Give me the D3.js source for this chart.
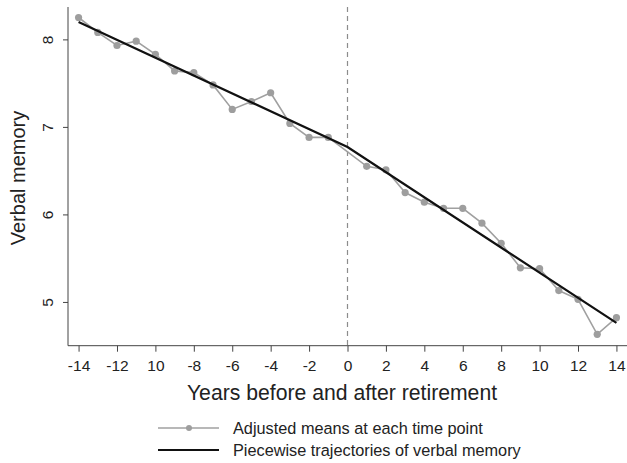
<!DOCTYPE html>
<html>
<head>
<meta charset="utf-8">
<script src="https://cdn.jsdelivr.net/npm/d3@7"></script>
<style>
  body { margin: 0; background: #fff; }
  svg { display: block; font-family: "Liberation Sans", Arial, sans-serif; }
  .axis path, .axis line { stroke: #444; }
  .axis text { fill: #222; font-size: 15.5px; font-family: "Liberation Sans", Arial, sans-serif; }
</style>
</head>
<body>
<div id="chart"></div>
<script>
// years relative to retirement (no observation at year 0)
var years = [-14,-13,-12,-11,-10,-9,-8,-7,-6,-5,-4,-3,-2,-1,1,2,3,4,5,6,7,8,9,10,11,12,13,14]
var adjMeans = [8.25,8.08,7.93,7.98,7.83,7.64,7.62,7.48,7.20,7.29,7.39,7.04,6.88,6.88,6.55,6.51,6.25,6.14,6.07,6.07,5.90,5.67,5.39,5.38,5.13,5.03,4.63,4.82]
// piecewise fit: knots at start, retirement, end
var fitYears = [-14, 0, 14]
var fitValues = [8.20, 6.77, 4.76]
var xTicks = [-14,-12,-10,-8,-6,-4,-2,0,2,4,6,8,10,12,14]
var xTickLabels = ["-14","-12","10","-8","-6","-4","-2","0","2","4","6","8","10","12","14"]
var yTicks = [5, 6, 7, 8]

var W = 627, H = 463
var margin = {top: 7, left: 68}
var width = 559, height = 338.7

var svg = d3.select('#chart').append('svg').attr('width', W).attr('height', H)
var g = svg.append('g').attr('transform', 'translate(' + margin.left + ',' + margin.top + ')')

var x = d3.scaleLinear().domain([-14.55, 14.55]).range([0, width])
var y = d3.scaleLinear().domain([4.5, 8.37]).range([height, 0])

var axisX = d3.axisBottom(x).tickValues(xTicks).tickSize(6).tickPadding(8)
  .tickFormat(function (d, i) { return xTickLabels[i] })
var axisY = d3.axisLeft(y).tickValues(yTicks).tickSize(5).tickFormat(d3.format('d'))

g.append('g').attr('class', 'axis').attr('transform', 'translate(0,' + height + ')').call(axisX)
  .call(function (s) { s.select('.domain').attr('d', 'M0,0H' + width) })
var gy = g.append('g').attr('class', 'axis').call(axisY)
gy.select('.domain').attr('d', 'M0,0V' + height)
gy.selectAll('.tick text')
  .attr('text-anchor', 'middle')
  .attr('x', null)
  .attr('transform', 'translate(-20,0) rotate(-90)')
  .attr('dy', '0.35em')

// retirement marker
g.append('line')
  .attr('x1', x(0)).attr('x2', x(0)).attr('y1', 0).attr('y2', height)
  .attr('stroke', '#8c8c8c').attr('stroke-width', 1.2).attr('stroke-dasharray', '5,4')

var means = years.map(function (d, i) { return {year: d, value: adjMeans[i]} })
var fit = fitYears.map(function (d, i) { return {year: d, value: fitValues[i]} })
var lineFunc = d3.line().x(function (d) { return x(d.year) }).y(function (d) { return y(d.value) })

g.append('path').attr('d', lineFunc(means))
  .attr('fill', 'none').attr('stroke', '#a0a0a0').attr('stroke-width', 1.6)
g.selectAll('.point').data(means).enter().append('circle')
  .attr('class', 'point')
  .attr('cx', function (d) { return x(d.year) })
  .attr('cy', function (d) { return y(d.value) })
  .attr('r', 3.6).style('fill', '#9e9e9e')
g.append('path').attr('d', lineFunc(fit))
  .attr('fill', 'none').attr('stroke', '#111').attr('stroke-width', 2.2)

// axis titles
svg.append('text').attr('x', 342).attr('y', 400).attr('text-anchor', 'middle')
  .attr('font-size', 21.2).attr('fill', '#222').text('Years before and after retirement')
svg.append('text').attr('transform', 'translate(25,178) rotate(-90)').attr('text-anchor', 'middle')
  .attr('font-size', 20).attr('fill', '#222').text('Verbal memory')

// legend
var legend = svg.append('g')
legend.append('line').attr('x1', 158).attr('x2', 219).attr('y1', 428).attr('y2', 428)
  .attr('stroke', '#a0a0a0').attr('stroke-width', 1.6)
legend.append('circle').attr('cx', 189).attr('cy', 428).attr('r', 3).style('fill', '#9e9e9e')
legend.append('text').attr('x', 233).attr('y', 428).attr('dy', '0.35em')
  .attr('font-size', 16.3).attr('fill', '#222').text('Adjusted means at each time point')
legend.append('line').attr('x1', 158).attr('x2', 219).attr('y1', 450).attr('y2', 450)
  .attr('stroke', '#111').attr('stroke-width', 2.2)
legend.append('text').attr('x', 233).attr('y', 450).attr('dy', '0.35em')
  .attr('font-size', 16.3).attr('fill', '#222').text('Piecewise trajectories of verbal memory')
</script>
</body>
</html>
